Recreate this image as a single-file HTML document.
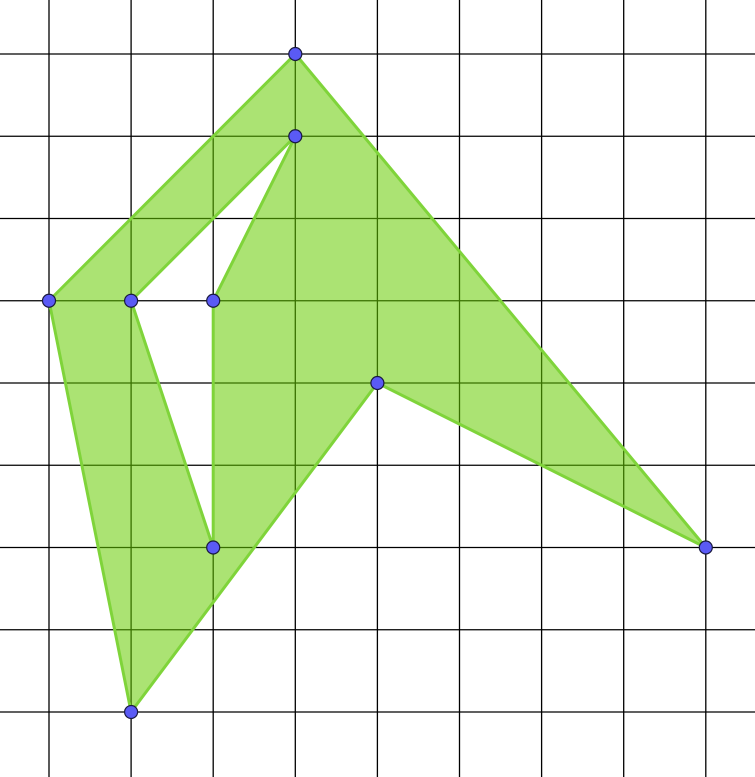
<!DOCTYPE html>
<html><head><meta charset="utf-8"><style>html,body{margin:0;padding:0;background:#fff}svg{display:block}</style></head>
<body>
<svg id="chart" width="755" height="777" viewBox="0 0 755 777" xmlns="http://www.w3.org/2000/svg">
<g id="grid"></g>
<path id="shape" fill="#66cc00" fill-opacity="0.55" fill-rule="evenodd" stroke="#7fd43a" stroke-width="3" stroke-linejoin="round"></path>
<g id="pts"></g>
</svg>
<script>
const outerX=[3,8,4,1,0];
const outerY=[0,6,4,8,3];
const holeX=[1,3,2,2];
const holeY=[3,1,3,6];
const pointX=[3,3,1,0,2,4,8,2,1];
const pointY=[0,1,3,3,3,4,6,6,8];
const gridCols=[-1,0,1,2,3,4,5,6,7,8,9];
const gridRows=[-1,0,1,2,3,4,5,6,7,8,9];
const sx=c=>49+82.1*c, sy=r=>54+82.25*r;
const ns="http://www.w3.org/2000/svg";
const g=document.getElementById('grid');
gridCols.forEach(c=>{const l=document.createElementNS(ns,'line');


l.setAttribute('x1',sx(c));l.setAttribute('x2',sx(c));l.setAttribute('y1',0);l.setAttribute('y2',777);l.setAttribute('stroke','#000');l.setAttribute('stroke-width','1.3');g.appendChild(l);});
gridRows.forEach(r=>{const l=document.createElementNS(ns,'line');


l.setAttribute('y1',sy(r));l.setAttribute('y2',sy(r));l.setAttribute('x1',0);l.setAttribute('x2',755);l.setAttribute('stroke','#000');l.setAttribute('stroke-width','1.3');g.appendChild(l);});
const sub=(xs,ys)=>xs.map((x,i)=>(i?'L':'M')+sx(x)+' '+sy(ys[i])).join(' ')+' Z';
document.getElementById('shape').setAttribute('d',sub(outerX,outerY)+' '+sub(holeX,holeY));
const p=document.getElementById('pts');
pointX.forEach((x,i)=>{const c=document.createElementNS(ns,'circle');


c.setAttribute('cx',sx(x));c.setAttribute('cy',sy(pointY[i]));c.setAttribute('r',6.5);c.setAttribute('fill','#5a5af5');c.setAttribute('stroke','#1a1a40');c.setAttribute('stroke-width','1.2');p.appendChild(c);});
</script>
</body></html>
